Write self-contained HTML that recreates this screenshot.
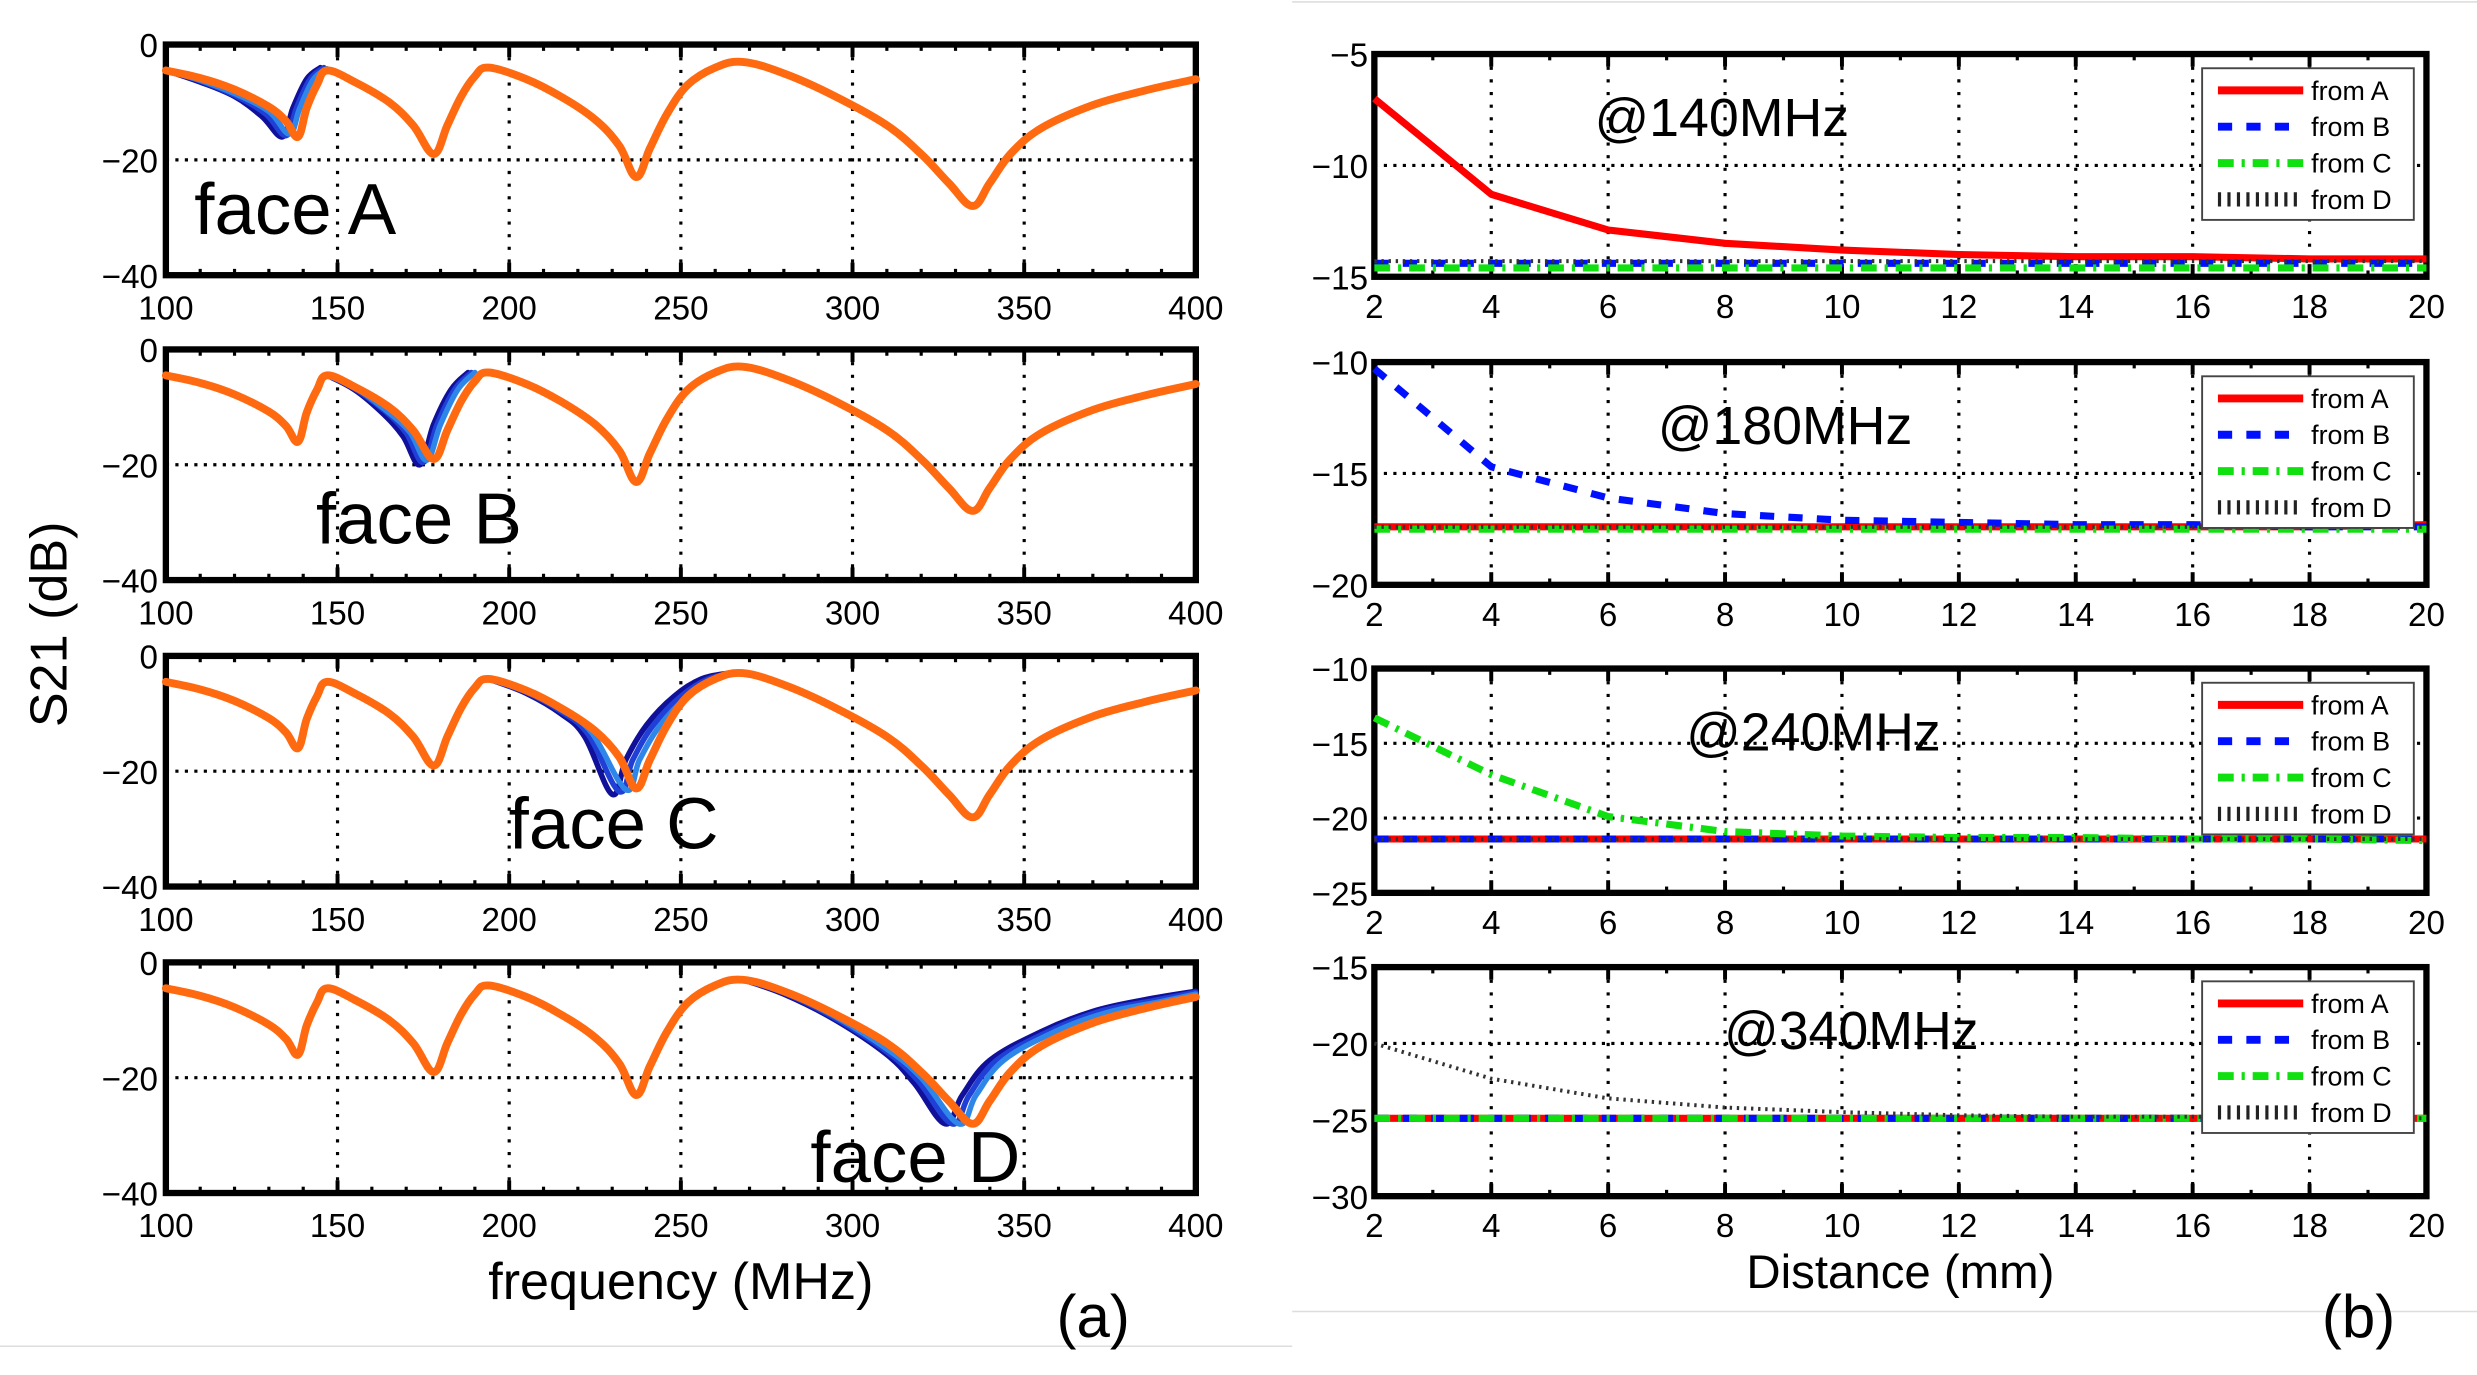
<!DOCTYPE html>
<html><head><meta charset="utf-8"><style>
html,body{margin:0;padding:0;background:#fff;}
svg{display:block;font-family:"Liberation Sans",sans-serif;}
</style></head><body>
<svg id="fig" width="2477" height="1375" viewBox="0 0 1568 870" xmlns="http://www.w3.org/2000/svg">
<rect x="0" y="0" width="1568" height="870" fill="#fff"/>
<line x1="0" y1="852" x2="818" y2="852" stroke="#ddd" stroke-width="1"/>
<line x1="818" y1="830" x2="1568" y2="830" stroke="#ddd" stroke-width="1"/>
<line x1="818" y1="1" x2="1568" y2="1" stroke="#ddd" stroke-width="1"/>
<text x="0" y="0" font-size="33" transform="translate(42,395) rotate(-90)" text-anchor="middle">S21 (dB)</text>
<text x="431" y="822" font-size="33" text-anchor="middle">frequency (MHz)</text>
<text x="1203" y="815" font-size="30" text-anchor="middle">Distance (mm)</text>
<text x="692" y="846" font-size="38" text-anchor="middle">(a)</text>
<text x="1493" y="846" font-size="38" text-anchor="middle">(b)</text>
<g id="plots"></g>
</svg>
<script>
// ---- Left panel data (frequency MHz, S21 dB) ----
const baseFreq = [100,110,120,130,135,138.5,141,144,147,155,165,172,178,182,186,190,194,205,215,225,232,237,241,246,252,260,268,280,295,310,320,328,335,340,346,355,370,385,400];
const baseVals = [-4.5,-5.8,-7.8,-10.8,-13.3,-16,-11,-7,-4.5,-6.5,-10,-14,-19,-14,-9,-5.5,-4,-6,-9,-13,-17.5,-23,-18,-12,-7,-4,-3,-5,-9,-14,-19,-24,-28,-24,-19,-14.5,-10.5,-8,-6];
// blue variants (face-specific segments)
const blueFreqA = [[100,110,120,128,134,137,141,145],[100,110,120,129,135,138,142,146],[100,110,120,130,136,139,143,147]];
const blueValsA = [[-4.5,-6.5,-9,-12.5,-16,-11,-6,-4],[-4.5,-6.3,-8.8,-12,-15.8,-11,-6,-4],[-4.5,-6.2,-8.5,-11.6,-15.5,-11,-6,-4.2]];
const blueFreqB = [[147,155,163,169,174,178,183,188],[147,155,164,170,175,179,184,189],[147,155,164,171,176,180,185,190]];
const blueValsB = [[-4.5,-7,-11,-15,-20,-13,-7,-4],[-4.5,-6.8,-10.8,-14.5,-19.6,-13,-7,-4],[-4.5,-6.6,-10.5,-14.3,-19.2,-13,-7,-4]];
const blueFreqC = [[194,205,215,222,230,234,240,248,256,264],[194,205,215,223,232,236,242,250,258,266],[194,205,215,224,234,238,244,252,260,267]];
const blueValsC = [[-4,-6.5,-10,-14,-24,-18,-12,-7,-4,-3],[-4,-6.3,-9.6,-13.6,-23.5,-18,-12,-7,-4,-3],[-4,-6.1,-9.3,-13.3,-23.2,-18,-12,-7,-4,-3]];
const blueFreqD = [[268,280,295,310,318,327,332,340,355,370,385,400],[268,280,295,310,319,329,334,342,357,372,387,400],[268,280,295,310,320,331,336,344,359,374,389,400]];
const blueValsD = [[-3,-5.5,-10,-16,-21,-28,-23,-17,-12,-8.5,-6.5,-5],[-3,-5.3,-9.7,-15.5,-20.5,-28,-23,-17,-12,-8.5,-6.7,-5.2],[-3,-5.1,-9.4,-15,-20,-28,-23,-17,-12,-8.7,-6.9,-5.5]];
const freqTicks = [100,150,200,250,300,350,400];
const dbTicks = [0,-20,-40];
const faceLabels = ["face A","face B","face C","face D"];

// ---- Right panel data (distance mm, S21 dB) ----
const dist = [2,4,6,8,10,12,14,16,18,20];
const r140A = [-7,-11.3,-12.9,-13.5,-13.8,-14.0,-14.1,-14.1,-14.2,-14.2];
const r140B = [-14.4,-14.4,-14.4,-14.4,-14.4,-14.4,-14.4,-14.4,-14.4,-14.4];
const r140C = [-14.6,-14.6,-14.6,-14.6,-14.6,-14.6,-14.6,-14.6,-14.6,-14.6];
const r140D = [-14.3,-14.3,-14.3,-14.3,-14.3,-14.3,-14.3,-14.3,-14.3,-14.3];
const r180A = [-17.4,-17.4,-17.4,-17.4,-17.4,-17.4,-17.4,-17.4,-17.4,-17.3];
const r180B = [-10.3,-14.7,-16.1,-16.8,-17.1,-17.2,-17.3,-17.3,-17.4,-17.4];
const r180C = [-17.5,-17.5,-17.5,-17.5,-17.5,-17.5,-17.5,-17.5,-17.5,-17.5];
const r180D = [-17.4,-17.4,-17.4,-17.4,-17.4,-17.4,-17.4,-17.4,-17.4,-17.4];
const r240A = [-21.4,-21.4,-21.4,-21.4,-21.4,-21.4,-21.4,-21.4,-21.4,-21.4];
const r240B = [-21.4,-21.4,-21.4,-21.4,-21.4,-21.4,-21.4,-21.4,-21.4,-21.4];
const r240C = [-13.3,-17.1,-19.9,-20.9,-21.2,-21.3,-21.3,-21.4,-21.4,-21.5];
const r240D = [-21.4,-21.4,-21.4,-21.4,-21.4,-21.4,-21.4,-21.4,-21.4,-21.4];
const r340A = [-24.9,-24.9,-24.9,-24.9,-24.9,-24.9,-24.9,-24.9,-24.9,-24.9];
const r340B = [-24.9,-24.9,-24.9,-24.9,-24.9,-24.9,-24.9,-24.9,-24.9,-24.9];
const r340C = [-24.9,-24.9,-24.9,-24.9,-24.9,-24.9,-24.9,-24.9,-24.9,-24.9];
const r340D = [-20,-22.3,-23.6,-24.2,-24.5,-24.7,-24.8,-24.8,-24.9,-24.9];
const distTicks = [2,4,6,8,10,12,14,16,18,20];
const titles = ["@140MHz","@180MHz","@240MHz","@340MHz"];
const yRanges = [[-15,-5],[-20,-10],[-25,-10],[-30,-15]];
const yTickSets = [[-5,-10,-15],[-10,-15,-20],[-10,-15,-20,-25],[-15,-20,-25,-30]];
const legendNames = ["from A","from B","from C","from D"];

const NS="http://www.w3.org/2000/svg";
const root=document.getElementById('plots');
function mk(tag,attrs,parent){const e=document.createElementNS(NS,tag);for(const k in attrs)e.setAttribute(k,attrs[k]);(parent||root).appendChild(e);return e;}
function poly(xs,ys,sx,sy,style,parent,name){
  const pts=xs.map((x,i)=>sx(x).toFixed(1)+','+sy(ys[i]).toFixed(1)).join(' ');
  const e=mk('polyline',Object.assign({points:pts,fill:'none','stroke-linejoin':'round'},style),parent);
  
  
  return e;
}
function smooth(xs,ys,sx,sy,style,parent,name){
  const P=xs.map((x,i)=>[sx(x),sy(ys[i])]);
  let d='M'+P[0][0].toFixed(1)+','+P[0][1].toFixed(1);
  for(let i=0;i<P.length-1;i++){
    const p0=P[Math.max(0,i-1)],p1=P[i],p2=P[i+1],p3=P[Math.min(P.length-1,i+2)];
    const t=0.18;
    const c1=[p1[0]+(p2[0]-p0[0])*t,p1[1]+(p2[1]-p0[1])*t];
    const c2=[p2[0]-(p3[0]-p1[0])*t,p2[1]-(p3[1]-p1[1])*t];
    d+=' C'+c1.map(v=>v.toFixed(1)).join(',')+' '+c2.map(v=>v.toFixed(1)).join(',')+' '+p2[0].toFixed(1)+','+p2[1].toFixed(1);
  }
  const e=mk('path',Object.assign({d:d,fill:'none','stroke-linejoin':'round','stroke-linecap':'round'},style),parent);
  
  
  return e;
}
function frame(g,L,R,T,B,xt,sx,yt,sy,gridY,minorX){
  mk('rect',{x:L,y:T,width:R-L,height:B-T,fill:'#fff'},g);
  xt.slice(1,-1).forEach(v=>mk('line',{x1:sx(v),x2:sx(v),y1:T,y2:B,stroke:'#000','stroke-width':2,'stroke-dasharray':'2,6'},g));
  gridY.forEach(v=>mk('line',{x1:L,x2:R,y1:sy(v),y2:sy(v),stroke:'#000','stroke-width':2,'stroke-dasharray':'2,4'},g));
  minorX.forEach(v=>{mk('line',{x1:sx(v),x2:sx(v),y1:T,y2:T+4,stroke:'#000','stroke-width':2},g);mk('line',{x1:sx(v),x2:sx(v),y1:B,y2:B-4,stroke:'#000','stroke-width':2},g);});
  xt.forEach(v=>{mk('line',{x1:sx(v),x2:sx(v),y1:T,y2:T+8,stroke:'#000','stroke-width':2.5},g);mk('line',{x1:sx(v),x2:sx(v),y1:B,y2:B-8,stroke:'#000','stroke-width':2.5},g);});
  const border=mk('rect',{x:L,y:T,width:R-L,height:B-T,fill:'none',stroke:'#000','stroke-width':4},g);
  
  
}

// Left panels
const LL=105,LR=757;
const leftTops=[28,221,415,609], PH=146;
const blueF=[blueFreqA,blueFreqB,blueFreqC,blueFreqD], blueV=[blueValsA,blueValsB,blueValsC,blueValsD];
const blueCols=['#10109a','#1f3fd6','#2e86e8'];
const faceXY=[[123,148],[200,344],[322,537],[513,748]];
leftTops.forEach((T,p)=>{
  const B=T+PH;
  const g=mk('g',{});
  
  
  const sx=v=>LL+(v-100)/300*(LR-LL), sy=v=>T+(0-v)/40*PH;
  const minor=[];for(let f=110;f<400;f+=10)minor.push(f);
  frame(g,LL,LR,T,B,freqTicks,sx,dbTicks,sy,[-20],minor);
  blueF[p].forEach((fs,i)=>smooth(fs,blueV[p][i],sx,sy,{stroke:blueCols[i],'stroke-width':3.5},g,'blue-curve-'+(i+1)));
  smooth(baseFreq,baseVals,sx,sy,{stroke:'#ff6a10','stroke-width':5},g,'orange-curve');
  const t=mk('text',{x:faceXY[p][0],y:faceXY[p][1],'font-size':46},g);t.textContent=faceLabels[p];
  
  
  dbTicks.forEach(v=>{const e=mk('text',{x:LL-5,y:sy(v)+8,'font-size':21,'text-anchor':'end'},g);e.textContent=(v<0?'\u2212':'')+Math.abs(v);
    
    });
  freqTicks.forEach(v=>{const e=mk('text',{x:sx(v),y:B+28,'font-size':21,'text-anchor':'middle'},g);e.textContent=v;
    
    });
});

// Right panels
const RL=870,RR=1536;
const rightTops=[34,229,423,612], rightBots=[175,370,565,757];
const series=[[r140A,r140B,r140C,r140D],[r180A,r180B,r180C,r180D],[r240A,r240B,r240C,r240D],[r340A,r340B,r340C,r340D]];
const sStyle=[
  {stroke:'#ff0000','stroke-width':4.5},
  {stroke:'#0010ff','stroke-width':4.5,'stroke-dasharray':'9,9'},
  {stroke:'#10e010','stroke-width':4.5,'stroke-dasharray':'10,5,2,5'},
  {stroke:'#333','stroke-width':2.5,'stroke-dasharray':'1.5,3'}];
const titleX=[1090,1130,1148,1172];
rightTops.forEach((T,p)=>{
  const B=rightBots[p];
  const g=mk('g',{});
  
  
  const [ymin,ymax]=yRanges[p];
  const sx=v=>RL+(v-2)/18*(RR-RL), sy=v=>T+(ymax-v)/(ymax-ymin)*(B-T);
  const minor=[];for(let d=3;d<20;d+=1)minor.push(d);
  const gy=yTickSets[p].slice(1,-1);
  frame(g,RL,RR,T,B,distTicks,sx,yTickSets[p],sy,gy,minor);
  const tt=mk('text',{x:titleX[p],y:T+52,'font-size':34,'text-anchor':'middle'},g);tt.textContent=titles[p];
  
  
  [0,1,2,3].forEach(i=>poly(dist,series[p][i],sx,sy,sStyle[i],g,'series-'+legendNames[i].replace(' ','-').toLowerCase()));
  const lg=mk('g',{},g);
  
  
  mk('rect',{x:1394,y:T+9,width:134,height:96,fill:'#fff',stroke:'#444','stroke-width':1.2},lg);
  legendNames.forEach((n,i)=>{
    const y=T+23+i*23;
    const ln=mk('line',Object.assign({x1:1404,x2:1458,y1:y,y2:y},sStyle[i],{'stroke-width':5}),lg);
    if(i==3){ln.setAttribute('stroke-dasharray','2,4');ln.setAttribute('stroke','#222');ln.setAttribute('stroke-width','9');}
    
    
    const t=mk('text',{x:1463,y:y+6,'font-size':17},lg);t.textContent=n;
    
    
  });
  yTickSets[p].forEach(v=>{const e=mk('text',{x:RL-4,y:sy(v)+8,'font-size':21,'text-anchor':'end'},g);e.textContent='\u2212'+Math.abs(v);
    
    });
  distTicks.forEach(v=>{const e=mk('text',{x:sx(v),y:B+26,'font-size':21,'text-anchor':'middle'},g);e.textContent=v;
    
    });
});
</script>
</body></html>
